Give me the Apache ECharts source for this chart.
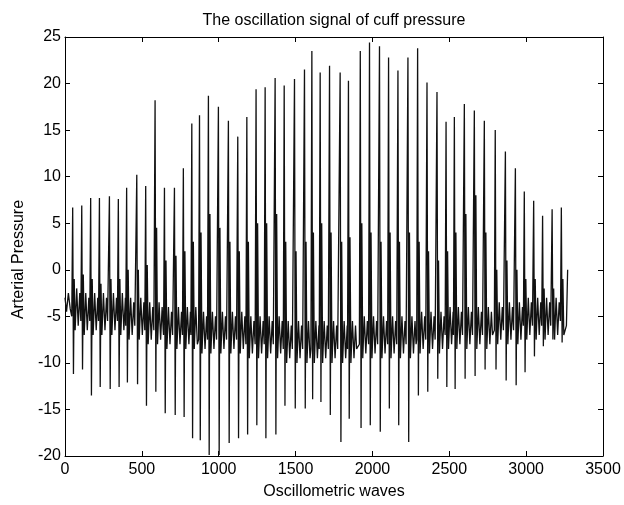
<!DOCTYPE html>
<html>
<head>
<meta charset="utf-8">
<script src="https://cdn.jsdelivr.net/npm/echarts@6/dist/echarts.min.js"></script>
<style>
html,body{margin:0;padding:0;background:#fff}
#main{width:624px;height:505px}
</style>
</head>
<body>
<div id="main"></div>
<script>
// sample index of each beat's main peak
var beatPos = [50,109,167,224,289,347,401, 467,525,586,647,712,770,825,
  875,933,998,1063,1124,1183,1243, 1302,1367,1426,1493,1558,1606,1660,
  1721,1790,1844,1921,1981,2046,2105, 2166,2231,2294,2355,2420,2479,2533,
  2598,2663,2728,2799,2865,2930, 2988,3049,3107,3169,3229];
// peak value of each beat
var beatPeak = [6.7,6.9,7.7,7.7,7.9,7.6,8.8, 10.2,9.0,18.2,8.8,8.8,10.9,15.7,
  16.6,18.7,17.5,16.0,14.3,16.4,19.4, 19.6,20.6,19.8,20.5,21.5,23.5,21.2,
  21.9,21.2,20.3,23.5,24.4,24.0,22.8, 21.4,22.8,23.8,20.1,19.1,15.9,16.4,
  17.8,17.1,16.0,15.0,12.7,10.9, 8.4,7.4,5.8,6.5,6.7];
// deepest value right after the peak
var beatTrough = [-11.2,-10.7,-13.5,-12.6,-12.8,-12.6,-12.1, -12.3,-14.6,-13.1,-15.4,-15.6,-15.8,-18.1,
  -18.3,-19.9,-19.9,-18.6,-18.1,-17.7,-16.7, -18.1,-17.7,-14.6,-14.9,-14.9,-13.9,-14.2,
  -15.6,-18.5,-16.0,-17.0,-16.7,-17.4,-14.9, -16.7,-18.5,-13.5,-13.1,-11.7,-12.6,-12.8,
  -11.7,-11.4,-10.7,-10.7,-11.9,-12.4, -11.0,-9.3,-8.2,-7.5,-7.8];
// secondary rebound after the trough
var beatRebound = [-1,-0.5,-1,-1.5,-1,-1,0, 0,0.5,4.5,1,1.5,2,3,
  4,6,4.5,3,2,3,5, 5,6,3,2,3,4,5,
  4,3,3.5,5,4,3,4, 3,4,3,2,1,2,4,
  6,8,4,0,1,0, -1,-1,-2,-2,-1];
// level of the small ripple between beats
var beatBase = [-4,-4.5,-4.5,-4.5,-4.5,-4.5,-5, -5,-5.5,-5.5,-6,-6,-6,-6,
  -6.5,-6.5,-6.5,-6.5,-6.5,-7,-7, -7,-7,-7.5,-7.5,-7.5,-7.5,-7.5,
  -7.5,-7.5,-7.5,-7,-7,-7,-7, -7,-7,-6.5,-6.5,-6.5,-6,-6,
  -6,-6,-6,-5.5,-5.5,-5.5, -5,-5,-5,-5,-4.5];
// signal before the first beat and at the end
var startWave = [[0,-3],[10,-4.5],[22,-2.5],[34,-4.2]];
var endWave = [[3262,-6],[3270,0]];
// ripple between beats: [samples after peak, offset from base]
var ripple = [[16,-2.5],[26,2],[36,-2],[46,1.5],[53,-1]];

var points = startWave.slice();
for (var i = 0; i < beatPos.length; i++) {
  var p = beatPos[i];
  var next = i + 1 < beatPos.length ? beatPos[i + 1] : endWave[0][0];
  points.push([p - 6, beatBase[i] - 1]);
  points.push([p, beatPeak[i]]);
  points.push([p + 5, beatTrough[i]]);
  points.push([p + 10, beatRebound[i]]);
  for (var k = 0; k < ripple.length; k++) {
    if (p + ripple[k][0] < next - 7) points.push([p + ripple[k][0], beatBase[i] + ripple[k][1]]);
  }
}
points = points.concat(endWave);

var fontFam = '"Liberation Sans", Arial, sans-serif';
var txt = {fontFamily: fontFam, fontSize: 16, color: '#000'};

function plain(v) { return String(v); }

function axisBase(extra) {
  var a = {
    type: 'value',
    axisLine: {show: true, onZero: false, lineStyle: {color: '#000', width: 1}},
    axisTick: {show: true, inside: true, length: 5, lineStyle: {color: '#000'}},
    splitLine: {show: false}
  };
  for (var key in extra) a[key] = extra[key];
  return a;
}

var myChart = echarts.init(document.getElementById('main'), null, {renderer: 'canvas'});
myChart.setOption({
  animation: false,
  backgroundColor: '#fff',
  title: {
    text: 'The oscillation signal of cuff pressure',
    left: 329, top: 8, textAlign: 'center',
    textStyle: {fontFamily: fontFam, fontSize: 16, fontWeight: 'normal', color: '#000'}
  },
  grid: {left: 65, right: 21, top: 37, bottom: 44},
  xAxis: [
    axisBase({min: 0, max: 3500, interval: 500, position: 'bottom',
      axisLabel: {margin: 6, formatter: plain, fontFamily: fontFam, fontSize: 16, color: '#000'},
      name: 'Oscillometric waves', nameLocation: 'middle', nameGap: 28, nameTextStyle: txt}),
    axisBase({min: 0, max: 3500, interval: 500, position: 'top', axisLabel: {show: false}})
  ],
  yAxis: [
    axisBase({min: -20, max: 25, interval: 5, position: 'left',
      axisLabel: {margin: 4, formatter: plain, fontFamily: fontFam, fontSize: 16, color: '#000'},
      name: 'Arterial Pressure', nameLocation: 'middle', nameGap: 34,
      nameTextStyle: {fontFamily: fontFam, fontSize: 16, color: '#000', padding: [0, 26, 0, 0]}}),
    axisBase({min: -20, max: 25, interval: 5, position: 'right', axisLabel: {show: false}})
  ],
  series: [{
    type: 'line',
    data: points,
    showSymbol: false,
    sampling: 'none',
    lineStyle: {color: '#111', width: 1.3},
    silent: true
  }]
});
</script>
</body>
</html>
